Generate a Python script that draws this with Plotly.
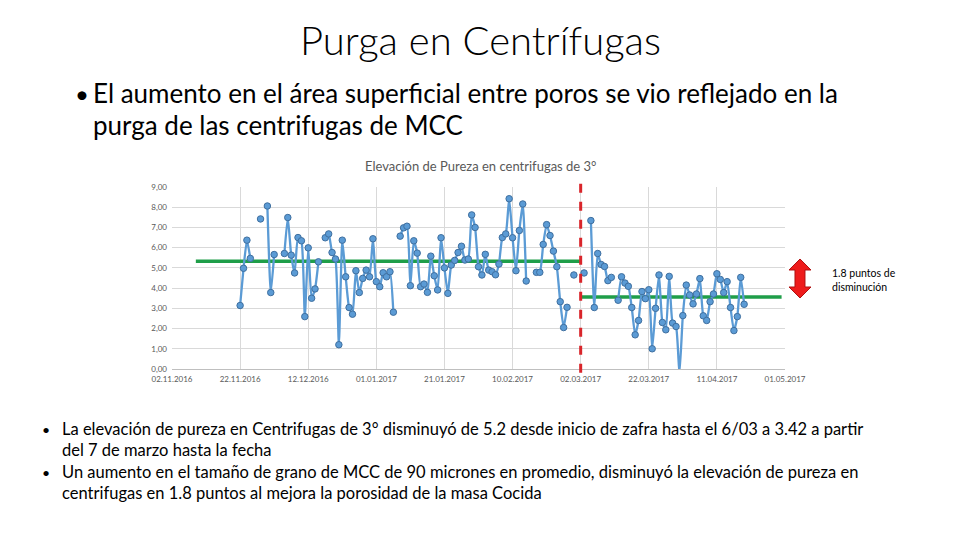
import pandas as pd
import plotly.graph_objects as go

# Elevación de pureza diaria desde el 22.11.2016 (None = día sin dato)
pureza = [
    3.14, 4.98, 6.37, 5.47, None, None, 7.42, None, 8.06, 3.78,
    5.66, None, None, 5.71, 7.49, 5.63, 4.75, 6.50, 6.34, 2.59,
    5.99, 3.50, 3.96, 5.30, None, 6.49, 6.68, 5.76, 5.44, 1.20,
    6.37, 4.56, 3.04, 2.71, 4.86, 3.78, 4.48, 4.89, 4.56, 6.44,
    4.32, 4.07, 4.76, 4.56, 4.81, 2.81, None, 6.57, 6.98, 7.06,
    4.12, 6.34, 5.73, 4.07, 4.20, 3.79, 5.58, 4.61, 3.91, 6.49,
    5.00, 3.74, 5.14, 5.37, 5.76, 6.07, 5.39, 5.44, 7.62, 7.00,
    5.06, 4.65, 5.67, 4.89, 4.81, 4.66, 5.19, 6.50, 6.68, 8.42,
    6.49, 4.86, 6.85, 8.16, 4.35, None, None, 4.78, 4.78, 6.16,
    7.14, 6.60, 5.83, 5.06, 3.33, 2.05, 3.05, None, 4.65, None,
    None, 4.75, None, 7.34, 3.04, 5.71, 5.17, 5.07, 4.37, 4.53,
    None, 3.40, 4.56, 4.25, 4.09, 3.04, 1.69, 2.40, 3.83, 3.48,
    3.92, 1.00, 3.00, 4.65, 2.30, 1.94, 4.58, 2.27, 2.10, -0.23,
    2.64, 4.15, 3.66, 3.22, 3.71, 4.47, 2.63, 2.40, 3.33, 3.71,
    4.71, 4.43, 3.78, 4.32, 3.04, 1.90, 2.59, 4.53, 3.20,
]
fechas = pd.date_range("2016-11-22", periods=len(pureza), freq="D")

# promedios antes y después del cambio (02.03.2017)
prom_antes_x = ["2016-11-09", "2017-03-02"]
prom_antes_y = [5.33, 5.33]
prom_despues_x = ["2017-03-02", "2017-04-30"]
prom_despues_y = [3.56, 3.56]
fecha_cambio = "2017-03-02"

tick_fechas = ["2016-11-02", "2016-11-22", "2016-12-12", "2017-01-01", "2017-01-21",
               "2017-02-10", "2017-03-02", "2017-03-22", "2017-04-11", "2017-05-01"]
tick_textos = ["02.11.2016", "22.11.2016", "12.12.2016", "01.01.2017", "21.01.2017",
               "10.02.2017", "02.03.2017", "22.03.2017", "11.04.2017", "01.05.2017"]
y_ticks = [0, 1, 2, 3, 4, 5, 6, 7, 8, 9]
y_textos = ["0,00", "1,00", "2,00", "3,00", "4,00", "5,00", "6,00", "7,00", "8,00", "9,00"]

# la página deja 8 px de margen arriba y a la izquierda
OFF = 8
W, H = 960 - OFF, 540 - OFF
L, R, T, B = 172, 785, 187, 369


def px(x):
    return (x - L) / (R - L)


def py(y):
    return (B - y) / (B - T)


fig = go.Figure()

fig.add_trace(go.Scatter(
    x=prom_antes_x, y=prom_antes_y, mode="lines",
    line=dict(color="#1f9e49", width=3.5), hoverinfo="skip",
))
fig.add_trace(go.Scatter(
    x=prom_despues_x, y=prom_despues_y, mode="lines",
    line=dict(color="#1f9e49", width=3.5), hoverinfo="skip",
))
fig.add_trace(go.Scatter(
    x=fechas, y=pureza, mode="lines+markers",
    line=dict(color="#5b9bd5", width=2.3, shape="spline", smoothing=0.5),
    marker=dict(size=6.5, color="#5b9bd5", line=dict(color="#3f6f9f", width=1)),
    connectgaps=False, cliponaxis=False,
))

fig.add_shape(type="line", xref="x", yref="paper", x0=fecha_cambio, x1=fecha_cambio,
              y0=-0.02, y1=1.025, line=dict(color="#d9252a", width=3, dash="dash"))

# flecha doble roja
ax0, ax1, sx0, sx1, cx = 789, 811, 795, 805, 800
pts = [(cx, 259), (ax1, 270), (sx1, 270), (sx1, 287), (ax1, 287), (cx, 298),
       (ax0, 287), (sx0, 287), (sx0, 270), (ax0, 270)]
path = "M " + " L ".join(f"{px(a):.4f},{py(b):.4f}" for a, b in pts) + " Z"
fig.add_shape(type="path", xref="paper", yref="paper", path=path,
              fillcolor="#ee1c1c", line=dict(color="#b01010", width=1))

notas = [
    dict(x=480, y=40, text="Purga en Centrífugas", size=40, xanchor="center", weight=300),
    dict(x=73, y=93, text="•", size=24, xanchor="left"),
    dict(x=91, y=93, text="El aumento en el área superficial entre poros se vio reflejado en la",
         size=26, xanchor="left"),
    dict(x=91, y=125, text="purga de las centrifugas de MCC", size=26, xanchor="left"),
    dict(x=480, y=166, text="Elevación de Pureza en centrifugas de 3°", size=13, color="#595959",
         xanchor="center"),
    dict(x=830, y=273, text="1.8 puntos de", size=10.5, xanchor="left"),
    dict(x=830, y=287, text="disminución", size=10.5, xanchor="left"),
    dict(x=40, y=429, text="•", size=14, xanchor="left"),
    dict(x=60, y=429, text="La elevación de pureza en Centrifugas de 3° disminuyó de 5.2 desde inicio "
                            "de zafra hasta el 6/03 a 3.42 a partir", size=16.5, xanchor="left"),
    dict(x=60, y=450, text="del 7 de marzo hasta la fecha", size=16.5, xanchor="left"),
    dict(x=40, y=472, text="•", size=14, xanchor="left"),
    dict(x=60, y=472, text="Un aumento en el tamaño de grano de MCC de 90 micrones en promedio, disminuyó "
                            "la elevación de pureza en", size=16.5, xanchor="left"),
    dict(x=60, y=493, text="centrifugas en 1.8 puntos al mejora la porosidad de la masa Cocida",
         size=16.5, xanchor="left"),
]
for n in notas:
    fig.add_annotation(x=px(n["x"]), y=py(n["y"]), xref="paper", yref="paper", text=n["text"],
                       showarrow=False, xanchor=n["xanchor"], yanchor="middle",
                       font=dict(family="Lato", size=n["size"], color=n.get("color", "#000000"),
                                 weight=n.get("weight", 400)))

fig.update_xaxes(
    type="date", range=["2016-11-02", "2017-05-01"],
    tickvals=tick_fechas, ticktext=tick_textos,
    showgrid=True, gridcolor="#d9d9d9", gridwidth=1,
    showline=True, linecolor="#bfbfbf", ticks="", ticklabelstandoff=2,
    tickfont=dict(family="Lato", size=8, color="#595959"),
)
fig.update_yaxes(
    range=[0, 9], tickvals=y_ticks, ticktext=y_textos,
    showgrid=True, gridcolor="#d9d9d9", gridwidth=1, zeroline=False,
    showline=False, ticks="", ticklabelstandoff=4,
    tickfont=dict(family="Lato", size=8, color="#595959"),
)
fig.update_layout(
    width=W, height=H, showlegend=False,
    margin=dict(l=L - OFF, r=960 - R, t=T - OFF, b=540 - B),
    paper_bgcolor="white", plot_bgcolor="white",
)

fig.write_html("out.html")
